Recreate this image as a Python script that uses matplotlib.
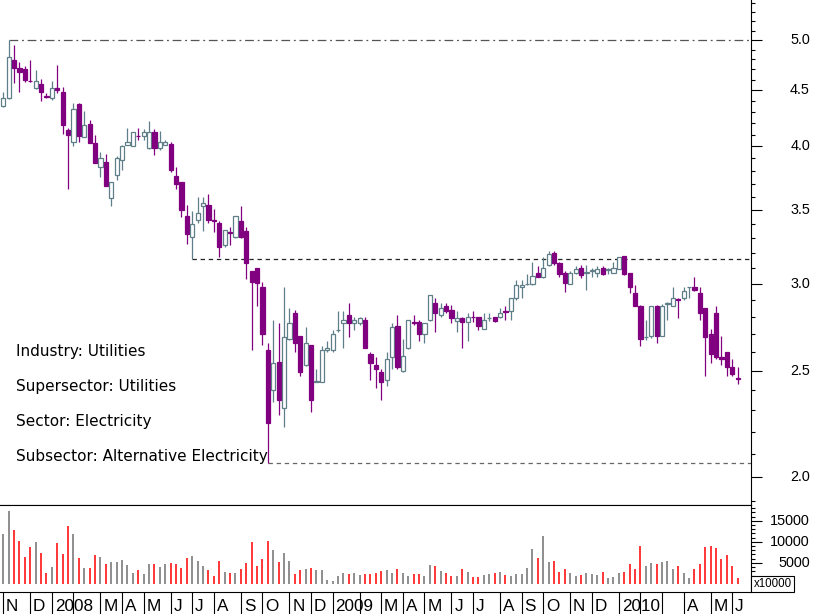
import numpy as np
import pandas as pd
import matplotlib
matplotlib.use('Agg')
import matplotlib.pyplot as plt
from matplotlib.patches import Rectangle
from matplotlib.ticker import FixedLocator, NullFormatter
from matplotlib.transforms import blended_transform_factory

# Weekly candles, first week ending 2 Nov 2007
premiere_semaine = '2007-11-02'

opens = [4.35, 4.43, 4.79, 4.71, 4.70, 4.59, 4.52, 4.56, 4.45, 4.43,
         4.52, 4.48, 4.14, 4.04, 4.37, 4.08, 4.19, 4.03, 3.83, 3.87,
         3.59, 3.77, 3.89, 4.015, 4.005, 4.09, 4.09, 3.99, 4.12, 3.985,
         4.015, 4.02, 3.76, 3.71, 3.46, 3.31, 3.43, 3.53, 3.54, 3.43,
         3.41, 3.25, 3.34, 3.31, 3.42, 3.35, 3.08, 3.10, 2.98, 2.61,
         2.40, 2.545, 2.31, 2.67, 2.82, 2.69, 2.53, 2.64, 2.44, 2.44,
         2.61, 2.61, 2.72, 2.76, 2.81, 2.76, 2.76, 2.78, 2.59, 2.53,
         2.49, 2.45, 2.57, 2.745, 2.50, 2.62, 2.77, 2.77, 2.70, 2.78,
         2.88, 2.81, 2.86, 2.84, 2.775, 2.79, 2.77, 2.80, 2.80, 2.73,
         2.79, 2.80, 2.795, 2.83, 2.83, 2.91, 2.98, 2.995, 3.00, 3.07,
         3.04, 3.12, 3.20, 3.13, 3.07, 3.00, 3.07, 3.10, 3.07, 3.08,
         3.07, 3.10, 3.09, 3.07, 3.095, 3.18, 3.07, 2.94, 2.865, 2.68,
         2.69, 2.86, 2.69, 2.875, 2.86, 2.905, 2.91, 2.98, 2.98, 2.94,
         2.85, 2.70, 2.82, 2.57, 2.60, 2.52, 2.46]

highs = [4.48, 5.00, 4.95, 4.77, 4.73, 4.79, 4.69, 4.61, 4.47, 4.59,
         4.74, 4.53, 4.155, 4.38, 4.38, 4.31, 4.23, 4.10, 3.955, 3.94,
         3.71, 3.92, 4.015, 4.155, 4.12, 4.155, 4.15, 4.22, 4.145, 4.13,
         4.05, 4.04, 3.83, 3.71, 3.54, 3.49, 3.60, 3.60, 3.62, 3.51,
         3.42, 3.36, 3.38, 3.46, 3.53, 3.38, 3.08, 3.10, 3.01, 2.65,
         2.78, 2.76, 2.98, 2.85, 2.84, 2.69, 2.74, 2.64, 2.51, 2.63,
         2.66, 2.72, 2.83, 2.83, 2.88, 2.80, 2.80, 2.80, 2.60, 2.57,
         2.51, 2.60, 2.76, 2.81, 2.67, 2.78, 2.81, 2.78, 2.76, 2.93,
         2.91, 2.88, 2.88, 2.87, 2.83, 2.80, 2.82, 2.83, 2.80, 2.82,
         2.82, 2.80, 2.85, 2.86, 2.91, 3.02, 3.02, 3.06, 3.14, 3.11,
         3.17, 3.21, 3.21, 3.14, 3.08, 3.08, 3.11, 3.12, 3.12, 3.10,
         3.11, 3.11, 3.10, 3.14, 3.17, 3.18, 3.07, 2.99, 2.87, 2.78,
         2.86, 2.87, 2.875, 2.885, 2.98, 2.91, 2.98, 2.98, 3.04, 2.98,
         2.85, 2.73, 2.86, 2.69, 2.60, 2.56, 2.52]

lows = [4.34, 4.42, 4.565, 4.48, 4.58, 4.58, 4.51, 4.40, 4.43, 4.41,
        4.47, 4.105, 3.66, 4.00, 4.04, 4.08, 4.03, 3.865, 3.75, 3.685,
        3.53, 3.73, 3.81, 4.01, 4.00, 4.05, 4.05, 3.98, 3.93, 3.97,
        4.01, 3.79, 3.66, 3.45, 3.26, 3.16, 3.41, 3.35, 3.41, 3.34,
        3.17, 3.24, 3.25, 3.30, 3.30, 3.03, 2.61, 2.86, 2.64, 2.06,
        2.34, 2.28, 2.22, 2.665, 2.60, 2.47, 2.525, 2.29, 2.44, 2.44,
        2.60, 2.60, 2.71, 2.62, 2.68, 2.72, 2.75, 2.62, 2.45, 2.41,
        2.35, 2.42, 2.51, 2.51, 2.49, 2.615, 2.75, 2.66, 2.65, 2.775,
        2.71, 2.80, 2.82, 2.76, 2.71, 2.62, 2.66, 2.77, 2.72, 2.73,
        2.775, 2.77, 2.79, 2.78, 2.78, 2.90, 2.91, 2.99, 2.99, 3.04,
        3.035, 3.11, 3.12, 3.04, 2.95, 2.995, 3.06, 3.035, 2.96, 3.04,
        3.04, 3.055, 3.06, 3.07, 3.095, 3.055, 2.94, 2.86, 2.63, 2.665,
        2.675, 2.65, 2.69, 2.78, 2.86, 2.79, 2.90, 2.91, 2.955, 2.78,
        2.47, 2.54, 2.56, 2.53, 2.47, 2.47, 2.43]

closes = [4.43, 4.82, 4.71, 4.68, 4.60, 4.585, 4.59, 4.48, 4.44, 4.52,
          4.50, 4.18, 4.10, 4.33, 4.09, 4.18, 4.03, 3.865, 3.90, 3.685,
          3.71, 3.90, 4.005, 4.04, 4.12, 4.085, 4.12, 4.12, 3.99, 4.04,
          4.04, 3.81, 3.695, 3.50, 3.33, 3.40, 3.48, 3.55, 3.43, 3.42,
          3.24, 3.36, 3.335, 3.46, 3.31, 3.13, 3.01, 3.005, 2.70, 2.24,
          2.54, 2.35, 2.68, 2.76, 2.65, 2.49, 2.65, 2.35, 2.445, 2.61,
          2.62, 2.70, 2.72, 2.78, 2.76, 2.78, 2.79, 2.62, 2.54, 2.51,
          2.44, 2.56, 2.74, 2.52, 2.58, 2.78, 2.765, 2.70, 2.76, 2.93,
          2.82, 2.85, 2.835, 2.79, 2.79, 2.77, 2.80, 2.795, 2.745, 2.78,
          2.79, 2.775, 2.82, 2.825, 2.91, 2.99, 2.99, 3.00, 3.05, 3.04,
          3.10, 3.19, 3.13, 3.06, 3.005, 3.07, 3.095, 3.055, 3.075, 3.09,
          3.095, 3.06, 3.095, 3.10, 3.17, 3.06, 2.98, 2.86, 2.67, 2.685,
          2.86, 2.69, 2.86, 2.88, 2.91, 2.90, 2.955, 2.98, 2.96, 2.82,
          2.68, 2.59, 2.57, 2.56, 2.52, 2.48, 2.455]

volumes = [11900, 17370, 12850, 10230, 6430, 8800, 10000, 7380, 2620, 4050,
           9760, 7140, 13800, 11900, 6190, 3810, 3810, 6900, 6430, 4760,
           5240, 5240, 5710, 4520, 2620, 3330, 2380, 4760, 4760, 4050,
           4760, 5000, 4760, 3810, 6190, 6660, 5470, 4280, 3330, 1900,
           5470, 2860, 2620, 2620, 3570, 5000, 10000, 4280, 5950, 10230,
           8090, 5240, 7380, 5470, 2380, 3330, 3570, 3810, 3330, 3330,
           950, 710, 1900, 2620, 2380, 2620, 2140, 2380, 2380, 2620,
           3090, 3330, 2620, 3570, 2690, 1900, 2380, 2380, 1900, 4520,
           4280, 3090, 2690, 1900, 1900, 3570, 2860, 1670, 1670, 2140,
           2380, 2620, 2860, 2140, 1900, 2380, 2380, 3810, 8330, 6190,
           11420, 5240, 5470, 2860, 3570, 2620, 1900, 2140, 2620, 2380,
           2140, 2860, 1430, 1670, 2620, 2860, 4760, 3570, 9040, 4210,
           5000, 4690, 5160, 5400, 3660, 4210, 2620, 1520, 3500, 4690,
           8800, 8970, 8570, 5880, 6830, 4210, 1520]

prix_ticks = [2.0, 2.5, 3.0, 3.5, 4.0, 4.5, 5.0]
prix_labels = ['2.0', '2.5', '3.0', '3.5', '4.0', '4.5', '5.0']
vol_ticks = [5000, 10000, 15000]
vol_labels = ['5000', '10000', '15000']
mois_lettres = 'JFMAMJJASOND'
mois_caches = ['2008-02', '2009-02', '2010-02', '2010-03']

infos = ['Industry: Utilities', 'Supersector: Utilities',
         'Sector: Electricity', 'Subsector: Alternative Electricity']

violet = '#800080'
gris = '#5f7f88'

n = len(closes)
x = np.arange(n)
dates = list(pd.date_range(premiere_semaine, periods=n, freq='W-FRI'))
# 1 Jan 2010 was a holiday, the week closed on 31 Dec
dates = [pd.Timestamp('2009-12-31') if d == pd.Timestamp('2010-01-01') else d for d in dates]

xmin, xmax = -0.61, 138.4

fig = plt.figure(figsize=(8.17, 6.14), dpi=100)
ax = fig.add_axes([0, 0.1775, 0.9188, 0.8225])
axv = fig.add_axes([0, 0.0358, 0.9188, 0.1417])

# Candles
largeur = 0.8
for i in range(n):
    o, h, l, c = opens[i], highs[i], lows[i], closes[i]
    if c < o:
        couleur, fond = violet, violet
    else:
        couleur, fond = gris, 'white'
    ax.vlines(i, l, h, color=couleur, lw=0.9, zorder=2)
    bas = min(o, c)
    haut = max(o, c)
    ax.add_patch(Rectangle((i - largeur / 2, bas), largeur, haut - bas,
                           facecolor=fond, edgecolor=couleur, lw=0.9, zorder=3))

ax.set_yscale('log')
ax.set_ylim(1.886, 5.437)
ax.set_xlim(xmin, xmax)

# Reference lines: highest high, low of week 35, lowest low
i_haut = int(np.argmax(highs))
i_bas = int(np.argmin(lows))
ax.plot([i_haut, xmax], [highs[i_haut], highs[i_haut]], color='#555555', lw=0.9,
        ls=(0, (7, 3, 1.5, 3)), zorder=1)
ax.plot([35, xmax], [lows[35], lows[35]], color='#222222', lw=0.9,
        ls=(0, (3.5, 3)), zorder=1)
ax.plot([i_bas, xmax], [lows[i_bas], lows[i_bas]], color='#666666', lw=0.9,
        ls=(0, (3.5, 3)), zorder=1)

# Axes of the price panel
for cote in ['left', 'top']:
    ax.spines[cote].set_visible(False)
ax.spines['right'].set_linewidth(0.8)
ax.spines['bottom'].set_linewidth(0.8)
ax.set_xticks([])
ax.yaxis.tick_right()
ax.yaxis.set_major_locator(FixedLocator(prix_ticks))
ax.yaxis.set_minor_locator(FixedLocator(np.arange(1.9, 5.45, 0.1)))
ax.yaxis.set_major_formatter(NullFormatter())
ax.yaxis.set_minor_formatter(NullFormatter())
ax.tick_params(axis='y', which='major', length=7.9, width=0.8, direction='out')
ax.tick_params(axis='y', which='minor', length=3.2, width=0.8, direction='out')
trans = blended_transform_factory(ax.transAxes, ax.transData)
for t, lab in zip(prix_ticks, prix_labels):
    ax.text(1.079, t, lab, transform=trans, ha='right', va='center',
            fontsize=10.4, family='Liberation Sans')

# Sector text
ypos = [0.295, 0.2257, 0.1564, 0.0871]
for txt, yy in zip(infos, ypos):
    ax.text(0.0213, yy, txt, transform=ax.transAxes, ha='left', va='baseline',
            fontsize=11, family='DejaVu Sans', color='black')

# Volume panel
couleurs_vol = ['#ff0000' if c < o else '#707070' for o, c in zip(opens, closes)]
axv.vlines(x, 0, volumes, colors=couleurs_vol, lw=1.1)
axv.set_xlim(xmin, xmax)
axv.set_ylim(-1905, 18740)
axv.spines['left'].set_visible(False)
for cote in ['top', 'right', 'bottom']:
    axv.spines[cote].set_linewidth(0.8)
axv.yaxis.tick_right()
axv.yaxis.set_major_locator(FixedLocator(vol_ticks))
axv.yaxis.set_minor_locator(FixedLocator(np.arange(-1000, 19000, 1000)))
axv.yaxis.set_major_formatter(NullFormatter())
axv.tick_params(axis='y', which='major', length=7.9, width=0.8, direction='out')
axv.tick_params(axis='y', which='minor', length=3.2, width=0.8, direction='out')
transv = blended_transform_factory(axv.transAxes, axv.transData)
for t, lab in zip(vol_ticks, vol_labels):
    axv.text(1.079, t, lab, transform=transv, ha='right', va='center',
             fontsize=10.4, family='Liberation Sans')
fig.text(753.5 / 817, 1 - 584 / 614, 'x10000', ha='left', va='center',
         fontsize=8.3, family='Liberation Sans',
         bbox=dict(boxstyle='square,pad=0.2', fc='white', ec='black', lw=0.8))

# Month separators and labels
debuts = [0] + [i for i in range(1, n) if dates[i].month != dates[i - 1].month]
axv.set_xticks(debuts)
axv.tick_params(axis='x', length=16, width=0.8, direction='out', labelbottom=False)
for i in debuts:
    d = dates[i]
    if d.strftime('%Y-%m') in mois_caches:
        continue
    lab = str(d.year) if d.month == 1 else mois_lettres[d.month - 1]
    axv.annotate(lab, xy=(i, 0), xycoords=('data', 'axes fraction'),
                 xytext=(2.0, -13.7), textcoords='offset points',
                 ha='left', va='baseline', fontsize=12.3, family='Liberation Sans')

fig.savefig('out.png', dpi=100)
